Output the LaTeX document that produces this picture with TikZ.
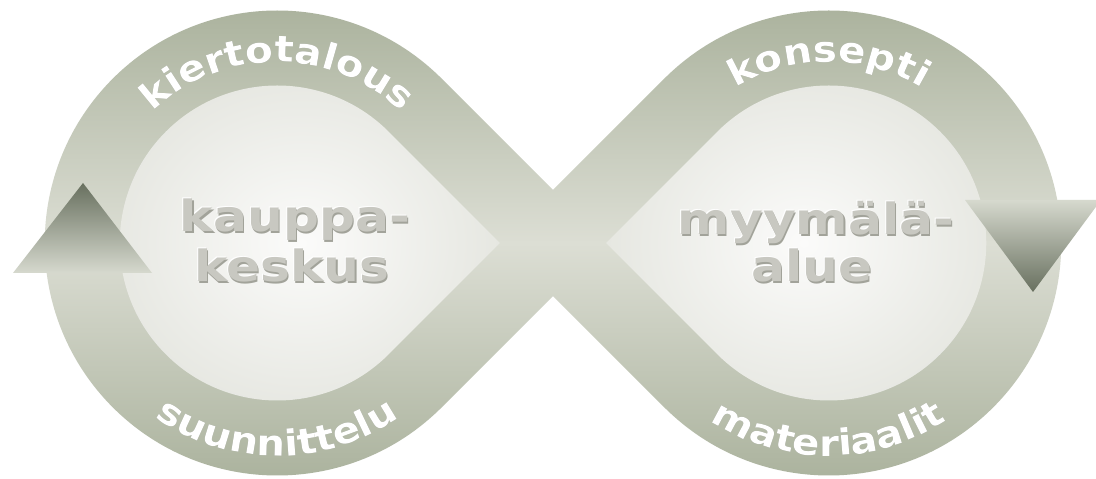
\documentclass[tikz,border=0pt]{standalone}
\usepackage{fontspec}
\newfontfamily\bandfont{DejaVu Sans}[FakeStretch=1.12]
\newfontfamily\midfont{DejaVu Sans}[FakeStretch=1.17]
\usetikzlibrary{decorations.text}
\definecolor{bandedge}{HTML}{A7AF99}
\definecolor{bandmid}{HTML}{DCDED4}
\definecolor{arrowdark}{HTML}{68705F}
\definecolor{arrowlight}{HTML}{D6D9CE}
\definecolor{holein}{HTML}{FBFBFA}
\definecolor{holeout}{HTML}{E6E7E1}
\definecolor{labelshadow}{HTML}{7A8170}
\definecolor{centertext}{HTML}{C8C8C1}
\definecolor{centershadow}{HTML}{A2A39A}
\newcommand\bandlblfont{\bandfont\bfseries\fontsize{36}{36}\selectfont}
\tikzset{
  arclabel/.style={decorate, decoration={text along path, text align=center, text color=white, text={|\bandlblfont|#1}}},
  arcshadow/.style={decorate, decoration={text along path, text align=center, text color=labelshadow, text={|\bandlblfont|#1}}, shift={(1.6,-1.6)}},
  midlabel/.style={anchor=base, inner sep=0pt, font=\midfont\bfseries\fontsize{43}{43}\selectfont, text=centertext},
  midshadow/.style={midlabel, text=centershadow},
  midlight/.style={midlabel, text=white},
  bandfill/.style={top color=bandedge, bottom color=bandedge, middle color=bandmid},
  holefill/.style={inner color=holein, outer color=holeout},
}
\begin{document}
\begin{tikzpicture}[x=1pt,y=1pt]
\useasboundingbox (0,0) rectangle (1096,479);
\fill[white] (0,0) rectangle (1096,479);
\clip (0,0) rectangle (1096,479);
\coordinate (L) at (277.23,236);
\coordinate (R) at (828.77,236);
% band
\shade[bandfill] (441.63,400.40) arc[start angle=45, end angle=315, radius=232.5]
  -- (553,182.97) -- (664.37,71.60) arc[start angle=225, end angle=495, radius=232.5]
  -- (553,289.03) -- cycle;
% inner teardrops
\shade[holefill] (499.97,236) -- (388.60,347.37) arc[start angle=45, end angle=315, radius=157.5] -- cycle;
\shade[holefill] (606.03,236) -- (717.40,347.37) arc[start angle=135, end angle=-135, radius=157.5] -- cycle;
% arrows
\shade[top color=arrowdark, bottom color=arrowlight] (13,206) -- (152,206) -- (83,296) -- cycle;
\shade[top color=arrowlight, bottom color=arrowdark] (965,279) -- (1101,279) -- (1033,187) -- cycle;
% band labels
\path[arcshadow=kiertotalous] (L) ++(165:181) arc[start angle=165, end angle=15, radius=181];
\path[arclabel=kiertotalous] (L) ++(165:181) arc[start angle=165, end angle=15, radius=181];
\path[arcshadow=konsepti] (R) ++(165:181) arc[start angle=165, end angle=15, radius=181];
\path[arclabel=konsepti] (R) ++(165:181) arc[start angle=165, end angle=15, radius=181];
\path[arcshadow=suunnittelu] (L) ++(200:213) arc[start angle=200, end angle=340, radius=213];
\path[arclabel=suunnittelu] (L) ++(200:213) arc[start angle=200, end angle=340, radius=213];
\path[arcshadow=materiaalit] (R) ++(200:213) arc[start angle=200, end angle=340, radius=213];
\path[arclabel=materiaalit] (R) ++(200:213) arc[start angle=200, end angle=340, radius=213];
% centre labels
\node[midlight] (kauppaH) at (294,248) {kauppa-};
\node[midshadow] (kauppaS) at (296.2,245.8) {kauppa-};
\node[midlabel] (kauppa) at (295,247) {kauppa-};
\node[midlight] (keskusH) at (291,198) {keskus};
\node[midshadow] (keskusS) at (293.2,195.8) {keskus};
\node[midlabel] (keskus) at (292,197) {keskus};
\node[midlight] (myymalaH) at (815,245) {myymälä-};
\node[midshadow] (myymalaS) at (817.2,242.8) {myymälä-};
\node[midlabel] (myymala) at (816,244) {myymälä-};
\node[midlight] (alueH) at (811,198) {alue};
\node[midshadow] (alueS) at (813.2,195.8) {alue};
\node[midlabel] (alue) at (812,197) {alue};
\end{tikzpicture}
\end{document}
